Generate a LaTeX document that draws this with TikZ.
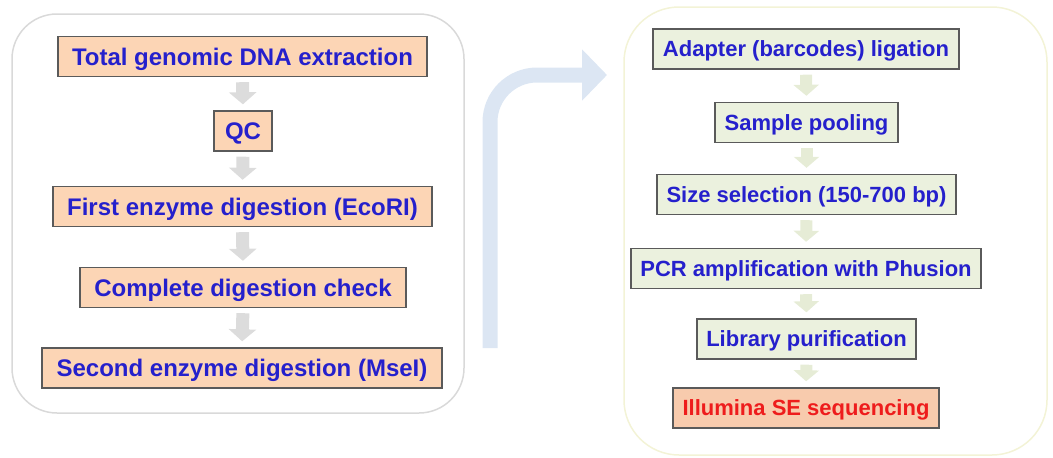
\documentclass[tikz,border=0pt]{standalone}
\usepackage{fontspec}
\setmainfont{Liberation Sans}
\usetikzlibrary{arrows.meta}
\definecolor{peach}{HTML}{FCD5B5}
\definecolor{greenfill}{HTML}{EBF1DE}
\definecolor{salmon}{HTML}{F8CBAD}
\definecolor{txtblue}{HTML}{2520CC}
\definecolor{txtred}{HTML}{EE1C1C}
\definecolor{boxline}{HTML}{5A5A5A}
\definecolor{grayarrow}{HTML}{DCDCDC}
\definecolor{greenarrow}{HTML}{E6ECD6}
\definecolor{bluearrow}{HTML}{DCE6F3}
\definecolor{leftpanel}{HTML}{D9D9D9}
\definecolor{rightpanel}{HTML}{F3F3D6}
\tikzset{
  lbox/.style={draw=boxline, line width=1.4pt, fill=peach, text=txtblue, inner sep=0pt,
    font=\fontsize{24}{28}\selectfont\bfseries, minimum height=40pt,
    text height=17pt, text depth=0pt},
  rbox/.style={draw=boxline, line width=1.4pt, fill=greenfill, text=txtblue, inner sep=0pt,
    font=\fontsize{22}{26}\selectfont\bfseries, minimum height=40pt,
    text height=15.8pt, text depth=0pt},
  seqbox/.style={rbox, fill=salmon, text=txtred},
  garrow/.style={draw=grayarrow, line width=13pt, -{Triangle[width=27pt,length=12pt]},
    shorten <=5pt, shorten >=6pt},
  grarrow/.style={draw=greenarrow, line width=12pt, -{Triangle[width=25pt,length=11pt]},
    shorten <=5pt, shorten >=6pt},
  panel/.style={line width=1.5pt}
}
\begin{document}
\begin{tikzpicture}[x=1pt,y=-1pt]
\useasboundingbox (0,0) rectangle (1053,458);
% panels
\path[panel, draw=leftpanel, rounded corners=45pt] (12,14) rectangle (464,413);
\path[panel, draw=rightpanel, rounded corners=55pt] (624,7) rectangle (1047,455);
% left boxes
\node[lbox, minimum width=369pt] (n1) at (242.5,56.5) {Total genomic DNA extraction};
\node[lbox, minimum width=58pt] (n2) at (243,131) {QC};
\node[lbox, minimum width=379pt] (n3) at (242.5,206.5) {First enzyme digestion (EcoRI)};
\node[lbox, minimum width=326pt] (n4) at (243,287.5) {Complete digestion check};
\node[lbox, minimum width=400pt] (n5) at (242,368) {Second enzyme digestion (MseI)};
% right boxes
\node[rbox, minimum width=306pt] (r1) at (806,49) {Adapter (barcodes) ligation};
\node[rbox, minimum width=183pt] (r2) at (806.5,122.5) {Sample pooling};
\node[rbox, minimum width=299pt] (r3) at (806.5,194.5) {Size selection (150-700 bp)};
\node[rbox, minimum width=350pt] (r4) at (806,268.5) {PCR amplification with Phusion};
\node[rbox, minimum width=219pt] (r5) at (806.5,339) {Library purification};
\node[seqbox, minimum width=266pt] (r6) at (806,408) {Illumina SE sequencing};
% left arrows
\draw[garrow] (n1.south) -- (n2.north);
\draw[garrow] (n2.south) -- (n3.north);
\draw[garrow] (n3.south) -- (n4.north);
\draw[garrow] (n4.south) -- (n5.north);
% right arrows
\draw[grarrow] (r1.south) -- (r2.north);
\draw[grarrow] (r2.south) -- (r3.north);
\draw[grarrow] (r3.south) -- (r4.north);
\draw[grarrow] (r4.south) -- (r5.north);
\draw[grarrow] (r5.south) -- (r6.north);
% big bent arrow
\coordinate (bstart) at (490,348);
\coordinate (bend) at (607,75);
\draw[draw=bluearrow, line width=15pt, -{Triangle[width=50pt,length=25pt]}]
  (bstart) -- (490,122) arc[start angle=180, end angle=90, radius=47pt] -- (bend);
\end{tikzpicture}
\end{document}
